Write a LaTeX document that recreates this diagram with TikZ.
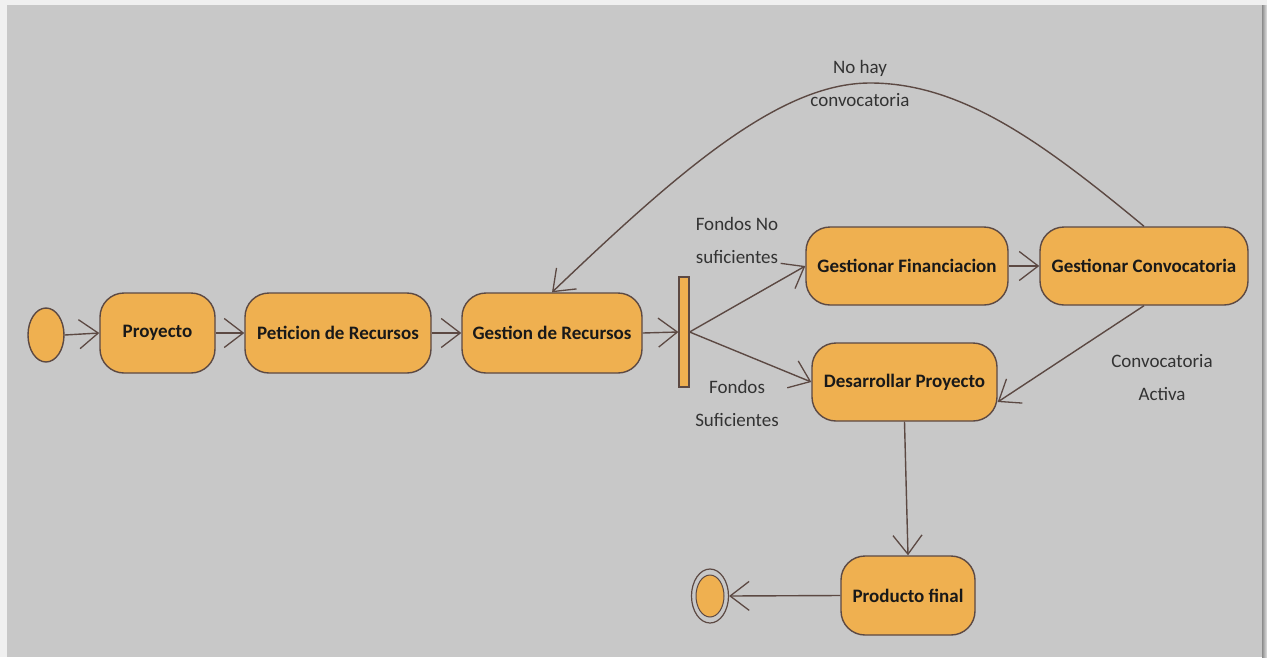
\documentclass[tikz,border=0pt]{standalone}
\usepackage{fontspec}
\setmainfont{Carlito}
\usetikzlibrary{arrows.meta,shapes.geometric,calc}
\definecolor{panel}{HTML}{C8C8C8}
\definecolor{margin}{HTML}{F0F0F0}
\definecolor{act}{HTML}{EFB050}
\definecolor{ink}{HTML}{5C4943}
\definecolor{labelink}{HTML}{333333}
\begin{document}
\begin{tikzpicture}[x=1pt,y=-1pt,
  activity/.style={draw=ink, line width=1.4pt, fill=act, rounded corners=24pt,
    inner sep=0pt, font=\fontsize{19}{23}\selectfont\bfseries, text=black!90},
  flow/.style={draw=ink, line width=1.4pt,
    -{Straight Barb[length=19pt,width=29pt,line width=1.3pt]}},
  guard/.style={font=\fontsize{19}{33}\selectfont, text=labelink, align=center, inner sep=0pt}]
  % page and panel
  \fill[margin] (0,0) rectangle (1267,657);
  \fill[panel] (7,5) rectangle (1262,657);
  \shade[left color=black!45, right color=black!10] (1262,5) rectangle (1267,657);
  \useasboundingbox (0,0) rectangle (1267,657);

  % start node
  \node[ellipse, draw=ink, line width=1.4pt, fill=act, minimum width=36pt,
        minimum height=54pt, inner sep=0pt] (ini) at (46,335) {};

  % activities
  \node[activity, minimum width=115pt, minimum height=80pt] (proy) at (157.5,333) {Proyecto};
  \node[activity, minimum width=186pt, minimum height=80pt] (peti) at (338,333) {Peticion de Recursos};
  \node[activity, minimum width=180pt, minimum height=80pt] (gest) at (552,333) {Gestion de Recursos};
  \node[activity, minimum width=202pt, minimum height=78pt] (finan) at (907,266) {Gestionar Financiacion};
  \node[activity, minimum width=208pt, minimum height=78pt] (conv) at (1144,266) {Gestionar Convocatoria};
  \node[activity, minimum width=185pt, minimum height=78pt] (desa) at (904.5,382) {Desarrollar Proyecto};
  \node[activity, minimum width=134pt, minimum height=79pt] (prod) at (908,595.5) {Producto final};

  % decision bar
  \node[draw=ink, line width=1.2pt, fill=act, minimum width=10pt, minimum height=110pt,
        inner sep=0pt] (bar) at (684,332) {};

  % end node
  \node[ellipse, draw=ink, line width=1.2pt, minimum width=37pt, minimum height=54pt,
        inner sep=0pt] (fin) at (710,596) {};
  \node[ellipse, draw=ink, line width=1pt, fill=act, minimum width=28pt, minimum height=42pt,
        inner sep=0pt] (finin) at (fin.center) {};

  % transitions
  \draw[flow] (ini.east) -- (proy.west);
  \draw[flow] (proy.east) -- (peti.west);
  \draw[flow] (peti.east) -- (gest.west);
  \draw[flow] (gest.east) -- (bar.west);
  \draw[flow] (bar.east) -- (finan.west);
  \draw[flow] (bar.east) -- (desa.west);
  \draw[flow] (finan.east) -- (conv.west);
  \draw[flow] (conv.south) -- ([yshift=-20pt]desa.east);
  \draw[flow] (desa.south) -- (prod.north);
  \draw[flow] (prod.west) -- (fin.east);
  \coordinate (peak) at (870,83);
  \draw[flow] (conv.north) .. controls (1040,140) and (960,83) .. (peak)
                          .. controls (780,83) and (680,170) .. (gest.north);

  % guard labels
  \node[guard] (g1) at (737,240) {Fondos No\\suficientes};
  \node[guard] (g2) at (737,403) {Fondos\\Suficientes};
  \node[guard] (g3) at (1162,378) {Convocatoria\\Activa};
  \node[guard] (g4) at (860,83) {No hay\\convocatoria};
\end{tikzpicture}
\end{document}
